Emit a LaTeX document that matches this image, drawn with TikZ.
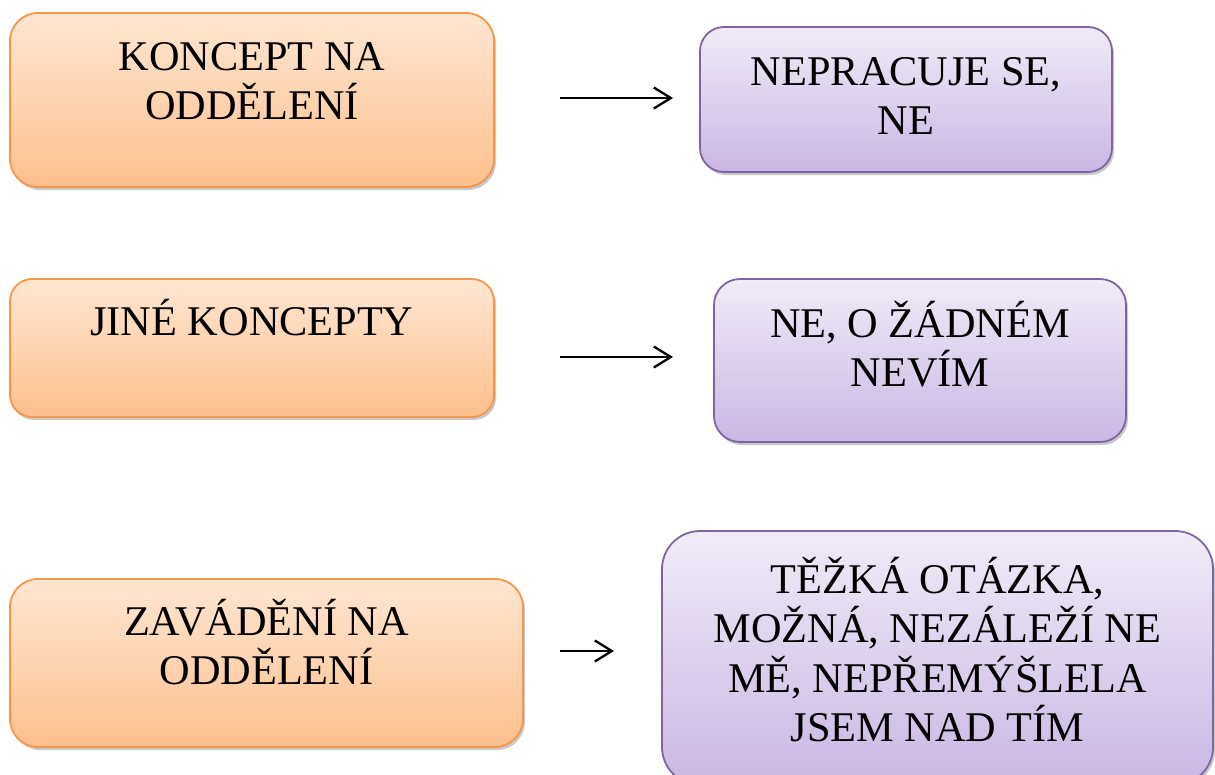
\documentclass[tikz,border=0pt]{standalone}
\usepackage{fontspec}
\setmainfont{Liberation Serif}
\usepackage{xcolor}
\usepackage{tikz}
\usetikzlibrary{arrows.meta,shadows}
\definecolor{topicLine}{HTML}{F79646}
\definecolor{topicTop}{HTML}{FFE6D2}
\definecolor{topicBot}{HTML}{FDC08D}
\definecolor{replyLine}{HTML}{8064A2}
\definecolor{replyTop}{HTML}{F0EBF7}
\definecolor{replyBot}{HTML}{C9B7E3}
\tikzset{
  card/.style={line width=1.8pt, align=center, inner xsep=0pt, inner ysep=0pt,
    drop shadow={shadow xshift=2pt, shadow yshift=-3pt, fill=black!42}},
  topicbox/.style={card, draw=topicLine, top color=topicTop, bottom color=topicBot},
  replybox/.style={card, draw=replyLine, top color=replyTop, bottom color=replyBot},
  flow/.style={-{Straight Barb[length=17pt,width=21pt]}, line width=2.3pt}
}

\begin{document}
\begin{tikzpicture}[x=1pt, y=-1pt, font=\fontsize{42.3}{49.5}\selectfont]
  \useasboundingbox (0,0) rectangle (1215,774);
  \clip (0,0) rectangle (1215,774);
  % left column: topics
  \node[topicbox, rounded corners=28pt, minimum width=484pt, text height=106.5pt, text depth=67.5pt]
    (koncept) at (252,100) {KONCEPT NA\\ODDĚLENÍ};
  \node[topicbox, rounded corners=22pt, minimum width=484pt, text height=56pt, text depth=82pt]
    (jine) at (252,348) {JINÉ KONCEPTY};
  \node[topicbox, rounded corners=28pt, minimum width=513pt, text height=105.5pt, text depth=62.5pt]
    (zavadeni) at (266.5,663) {ZAVÁDĚNÍ NA\\ODDĚLENÍ};
  % right column: replies
  \node[replybox, rounded corners=24pt, minimum width=412pt, text height=107.5pt, text depth=37.5pt]
    (nepracuje) at (906,99.5) {NEPRACUJE SE,\\NE};
  \node[replybox, rounded corners=26pt, minimum width=412pt, text height=107.5pt, text depth=55.5pt]
    (nevim) at (920,360.5) {NE, O ŽÁDNÉM\\NEVÍM};
  \node[replybox, rounded corners=38pt, minimum width=551pt, text height=210.5pt, text depth=43.5pt]
    (otazka) at (937.5,658) {TĚŽKÁ OTÁZKA,\\MOŽNÁ, NEZÁLEŽÍ NE\\MĚ, NEPŘEMÝŠLELA\\JSEM NAD TÍM};
  % arrows
  \coordinate (a1s) at (560,98);  \coordinate (a1e) at (673,98);
  \coordinate (a2s) at (560,357); \coordinate (a2e) at (673,357);
  \coordinate (a3s) at (560,651); \coordinate (a3e) at (614,651);
  \draw[flow] (a1s) -- (a1e);
  \draw[flow] (a2s) -- (a2e);
  \draw[flow] (a3s) -- (a3e);
\end{tikzpicture}
\end{document}
